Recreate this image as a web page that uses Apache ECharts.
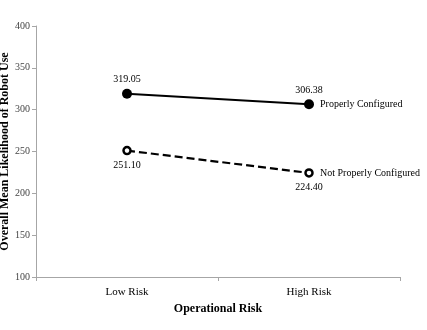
<!DOCTYPE html>
<html>
<head>
<meta charset="utf-8">
<script src="https://cdn.jsdelivr.net/npm/echarts@6/dist/echarts.min.js"></script>
<style>
  html, body { margin: 0; padding: 0; background: #fff; }
  #chart { width: 427px; height: 330px; }
</style>
</head>
<body>
<div id="chart"></div>
<script>
const categories = ['Low Risk', 'High Risk']
const properlyConfigured = [319.05, 306.38]
const notProperlyConfigured = [251.10, 224.40]
const yTicks = [100, 150, 200, 250, 300, 350, 400]

const font = 'Liberation Serif'
const chart = echarts.init(document.getElementById('chart'))

chart.setOption({
  animation: false,
  textStyle: { fontFamily: font },
  grid: { left: 36, right: 27, top: 26, bottom: 53, containLabel: false, outerBoundsMode: 'none' },
  xAxis: {
    type: 'category',
    data: categories,
    boundaryGap: true,
    name: 'Operational Risk',
    nameLocation: 'middle',
    nameGap: 26,
    nameTextStyle: { fontFamily: font, fontWeight: 'bold', fontSize: 12, color: '#000' },
    axisLine: { lineStyle: { color: '#a6a6a6' } },
    axisTick: { show: true, length: 4, lineStyle: { color: '#a6a6a6' } },
    axisLabel: { fontFamily: font, fontSize: 11, color: '#000', margin: 10 },
  },
  yAxis: {
    type: 'value',
    min: yTicks[0],
    max: yTicks[yTicks.length - 1],
    interval: 50,
    name: 'Overall Mean Likelihood of Robot Use',
    nameLocation: 'middle',
    nameGap: 25,
    nameMoveOverlap: false,
    nameTextStyle: { fontFamily: font, fontWeight: 'bold', fontSize: 12, color: '#000' },
    axisLine: { show: true, lineStyle: { color: '#a6a6a6' } },
    axisTick: { show: true, length: 4, lineStyle: { color: '#a6a6a6' } },
    axisLabel: { fontFamily: font, fontSize: 10, color: '#444', margin: 6 },
    splitLine: { show: false },
  },
  series: [
    {
      name: 'Properly Configured',
      type: 'line',
      data: properlyConfigured,
      symbol: 'circle',
      symbolSize: 10,
      itemStyle: { color: '#000' },
      lineStyle: { color: '#000', width: 2 },
      label: {
        show: true,
        position: 'top',
        distance: 4,
        formatter: (p) => p.value.toFixed(2),
        fontFamily: font,
        fontSize: 10,
        color: '#000',
      },
      endLabel: {
        show: true,
        formatter: '{a}',
        fontFamily: font,
        fontSize: 10,
        color: '#000',
        distance: 11,
      },
    },
    {
      name: 'Not Properly Configured',
      type: 'line',
      data: notProperlyConfigured,
      symbol: 'circle',
      symbolSize: 7,
      itemStyle: { color: '#fff', borderColor: '#000', borderWidth: 2.5 },
      lineStyle: { color: '#000', width: 2.2, type: [8, 4] },
      label: {
        show: true,
        position: 'bottom',
        distance: 5,
        formatter: (p) => p.value.toFixed(2),
        fontFamily: font,
        fontSize: 10,
        color: '#000',
      },
      endLabel: {
        show: true,
        formatter: '{a}',
        fontFamily: font,
        fontSize: 10,
        color: '#000',
        distance: 11,
      },
    },
  ],
})
</script>
</body>
</html>
